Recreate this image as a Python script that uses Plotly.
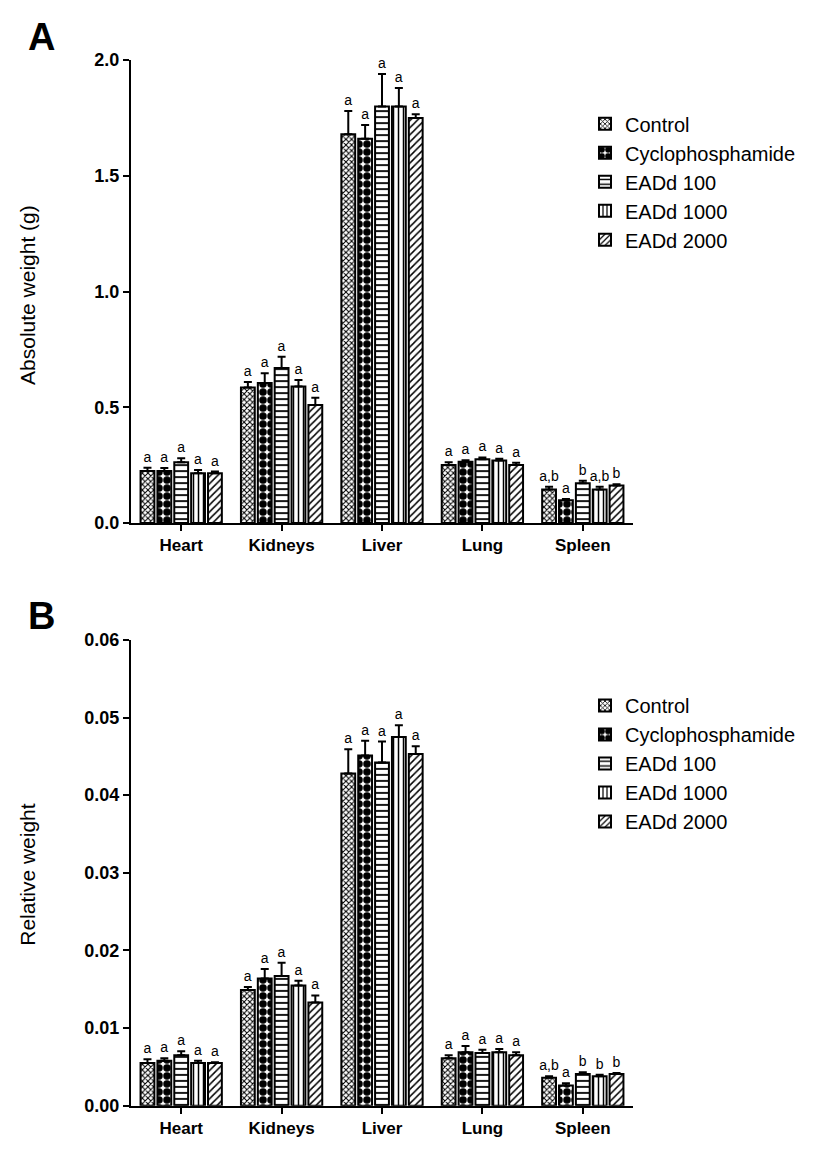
import plotly.graph_objects as go

organs = ["Heart", "Kidneys", "Liver", "Lung", "Spleen"]
groups = ["Control", "Cyclophosphamide", "EADd 100", "EADd 1000", "EADd 2000"]

# Panel A: absolute weight (g) — rows = groups, columns = organs
abs_mean = {
    "Control":          [0.225, 0.585, 1.68, 0.250, 0.145],
    "Cyclophosphamide": [0.225, 0.605, 1.66, 0.265, 0.098],
    "EADd 100":         [0.262, 0.670, 1.80, 0.275, 0.172],
    "EADd 1000":        [0.215, 0.590, 1.80, 0.270, 0.145],
    "EADd 2000":        [0.215, 0.510, 1.75, 0.250, 0.162],
}
abs_err = {
    "Control":          [0.014, 0.024, 0.10, 0.012, 0.011],
    "Cyclophosphamide": [0.012, 0.042, 0.06, 0.006, 0.006],
    "EADd 100":         [0.018, 0.048, 0.14, 0.008, 0.010],
    "EADd 1000":        [0.014, 0.028, 0.08, 0.008, 0.011],
    "EADd 2000":        [0.007, 0.031, 0.016, 0.010, 0.005],
}
abs_letters = {
    "Control":          ["a", "a", "a", "a", "a,b"],
    "Cyclophosphamide": ["a", "a", "a", "a", "a"],
    "EADd 100":         ["a", "a", "a", "a", "b"],
    "EADd 1000":        ["a", "a", "a", "a", "a,b"],
    "EADd 2000":        ["a", "a", "a", "a", "b"],
}

# Panel B: relative weight
rel_mean = {
    "Control":          [0.0055, 0.0149, 0.0428, 0.0061, 0.0036],
    "Cyclophosphamide": [0.0058, 0.0164, 0.0451, 0.0069, 0.0026],
    "EADd 100":         [0.0065, 0.0167, 0.0442, 0.0068, 0.0041],
    "EADd 1000":        [0.0055, 0.0155, 0.0475, 0.0069, 0.0038],
    "EADd 2000":        [0.0055, 0.0133, 0.0453, 0.0065, 0.0041],
}
rel_err = {
    "Control":          [0.0005, 0.0004, 0.0031, 0.0004, 0.0002],
    "Cyclophosphamide": [0.0003, 0.0012, 0.0019, 0.0008, 0.0003],
    "EADd 100":         [0.0005, 0.0017, 0.0027, 0.0004, 0.0002],
    "EADd 1000":        [0.0003, 0.0006, 0.0015, 0.0004, 0.0002],
    "EADd 2000":        [0.0001, 0.0009, 0.0010, 0.0004, 0.0001],
}
rel_letters = {
    "Control":          ["a", "a", "a", "a", "a,b"],
    "Cyclophosphamide": ["a", "a", "a", "a", "a"],
    "EADd 100":         ["a", "a", "a", "a", "b"],
    "EADd 1000":        ["a", "a", "a", "a", "b"],
    "EADd 2000":        ["a", "a", "a", "a", "b"],
}

patterns = {
    "Control":          dict(shape="x", size=4, solidity=0.45),
    "Cyclophosphamide": dict(shape=".", size=8, solidity=0.7),
    "EADd 100":         dict(shape="-", size=6, solidity=0.3),
    "EADd 1000":        dict(shape="|", size=5, solidity=0.3),
    "EADd 2000":        dict(shape="/", size=5, solidity=0.3),
}

FONT = "Arial, 'Liberation Sans', sans-serif"
fig = go.Figure()

def add_panel(mean, err, letters, xa, ya, legend):
    for i, g in enumerate(groups):
        fig.add_trace(go.Bar(
            x=organs, y=mean[g], name=g, xaxis=xa, yaxis=ya,
            offsetgroup=f"s{i}", legend=legend, legendgroup=g,
            marker=dict(color="white", line=dict(color="black", width=2),
                        pattern=dict(fgcolor="black", bgcolor="white",
                                     fillmode="replace", **patterns[g])),
            error_y=dict(type="data", symmetric=False, array=err[g],
                         arrayminus=[0] * len(organs), color="black",
                         thickness=2, width=4),
        ))
    for i, g in enumerate(groups):
        tops = [m + e for m, e in zip(mean[g], err[g])]
        fig.add_trace(go.Bar(
            x=organs, y=tops, xaxis=xa, yaxis=ya, offsetgroup=f"s{i}",
            showlegend=False, hoverinfo="skip",
            marker=dict(color="rgba(0,0,0,0)", line=dict(width=0)),
            text=letters[g], textposition="outside", constraintext="none",
            cliponaxis=False,
            textfont=dict(family=FONT, size=14, color="black"),
            outsidetextfont=dict(family=FONT, size=14, color="black"),
        ))

add_panel(abs_mean, abs_err, abs_letters, "x", "y", "legend")
add_panel(rel_mean, rel_err, rel_letters, "x2", "y2", "legend2")

axis_common = dict(showline=True, linecolor="black", linewidth=2, ticks="outside",
                   ticklen=6, tickwidth=2, tickcolor="black", showgrid=False,
                   zeroline=False)
xtickfont = dict(family=FONT, size=17, color="black", weight="bold")
ytickfont = dict(family=FONT, size=18, color="black", weight="bold")

xdom = [131 / 819, 633 / 819]
legend_common = dict(font=dict(family=FONT, size=20, color="black"),
                     bgcolor="rgba(0,0,0,0)", tracegroupgap=0,
                     xanchor="left", yanchor="top", x=585 / 819)

fig.update_layout(
    width=819, height=1156, margin=dict(l=0, r=0, t=0, b=0),
    paper_bgcolor="white", plot_bgcolor="white",
    barmode="group", bargap=0.16, bargroupgap=0.18,
    showlegend=True,
    xaxis=dict(domain=xdom, anchor="y", range=[-0.5, 4.5], tickfont=xtickfont, **axis_common),
    yaxis=dict(domain=[1 - 522 / 1156, 1 - 51 / 1156], anchor="x", range=[0, 2.0],
               dtick=0.5, tickformat=".1f", tickfont=ytickfont, **axis_common),
    xaxis2=dict(domain=xdom, anchor="y2", range=[-0.5, 4.5], tickfont=xtickfont, **axis_common),
    yaxis2=dict(domain=[1 - 1115 / 1156, 1 - 641 / 1156], anchor="x2", range=[0, 0.06],
                dtick=0.01, tickformat=".2f", tickfont=ytickfont, **axis_common),
    legend=dict(y=1 - 96 / 1156, **legend_common),
    legend2=dict(y=1 - 688 / 1156, **legend_common),
    annotations=[
        dict(text="A", x=41 / 819, y=1 - 27 / 1156, xref="paper", yref="paper",
             xanchor="center", yanchor="middle", showarrow=False,
             font=dict(family=FONT, size=38, color="black", weight="bold")),
        dict(text="B", x=41 / 819, y=1 - 617 / 1156, xref="paper", yref="paper",
             xanchor="center", yanchor="middle", showarrow=False,
             font=dict(family=FONT, size=38, color="black", weight="bold")),
        dict(text="Absolute weight (g)", x=28 / 819, y=1 - 290 / 1156, xref="paper",
             yref="paper", xanchor="center", yanchor="middle", showarrow=False,
             textangle=-90, font=dict(family=FONT, size=21, color="black")),
        dict(text="Relative weight", x=28 / 819, y=1 - 880 / 1156, xref="paper",
             yref="paper", xanchor="center", yanchor="middle", showarrow=False,
             textangle=-90, font=dict(family=FONT, size=21, color="black")),
    ],
)

fig.write_html("out.html")
